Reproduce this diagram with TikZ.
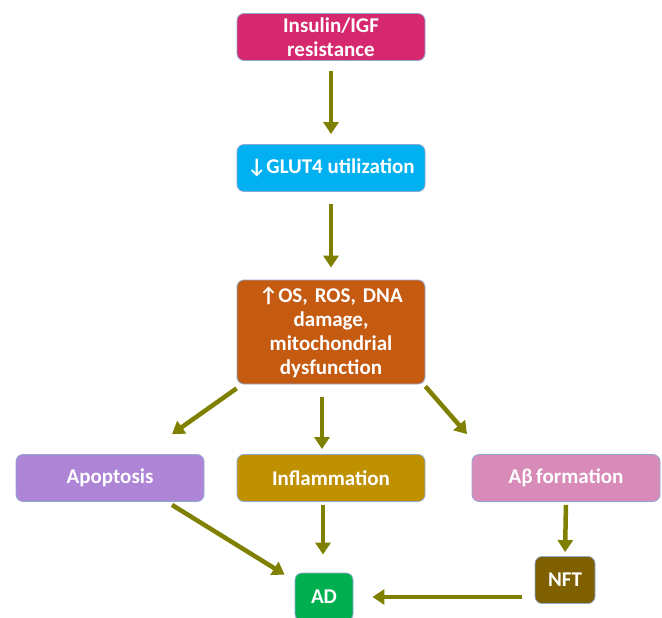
\documentclass[tikz,border=0pt]{standalone}
\usepackage{fontspec}
\setmainfont{Carlito}
\frenchspacing
\usetikzlibrary{arrows.meta}
\definecolor{insulin}{HTML}{D6286E}
\definecolor{glut}{HTML}{00B0F0}
\definecolor{ros}{HTML}{C55A11}
\definecolor{apop}{HTML}{AD84D6}
\definecolor{inflam}{HTML}{BF9000}
\definecolor{abeta}{HTML}{D88BB8}
\definecolor{nft}{HTML}{7F6000}
\definecolor{ad}{HTML}{00B050}
\definecolor{arrowcol}{HTML}{7F7F00}
\definecolor{edge}{HTML}{8FA8D0}
\begin{document}
\begin{tikzpicture}[x=1pt,y=-1pt,
    box/.style={draw=edge,line width=0.8pt,rounded corners=7pt,text=white,
      font=\fontsize{21}{24}\selectfont\bfseries,align=center,
      minimum width=188pt,minimum height=47pt,inner sep=2pt},
    link/.style={draw=arrowcol,line width=4.5pt,
      -{Triangle[width=15pt,length=12pt]}}]
  \useasboundingbox (0,0) rectangle (662,618);
  % top chain
  \node[box,fill=insulin] (insulin) at (331,37) {Insulin/IGF\\resistance};
  \node[box,fill=glut] (glut) at (331,168) {↓GLUT4 utilization};
  \node[box,fill=ros,minimum height=104pt,text width=176pt] (ros) at (331,332)
    {↑OS, ROS, DNA\\damage,\\mitochondrial\\dysfunction};
  % middle row
  \node[box,fill=apop] (apop) at (110,478) {Apoptosis};
  \node[box,fill=inflam] (inflam) at (331,478) {Inflammation};
  \node[box,fill=abeta] (abeta) at (566,478) {Aβ\,formation};
  % bottom
  \node[box,fill=nft,minimum width=60pt] (nft) at (565,580) {NFT};
  \node[box,fill=ad,minimum width=58pt,minimum height=48pt] (ad) at (324,597) {AD};
  % arrows
  \draw[link,shorten <=10pt,shorten >=10pt] (insulin) -- (glut);
  \draw[link,shorten <=12pt,shorten >=12pt] (glut) -- (ros);
  \draw[link] ([yshift=-4pt]ros.south west) -- ([xshift=62pt,yshift=20pt]apop.north);
  \draw[link] ([xshift=-9pt,yshift=-13pt]ros.south) -- ([xshift=-9pt,yshift=5pt]inflam.north);
  \draw[link] ([yshift=-2pt]ros.south east) -- ([xshift=-99pt,yshift=20pt]abeta.north);
  \draw[link] ([xshift=62pt,yshift=-3pt]apop.south) -- ([xshift=-10pt,yshift=-2pt]ad.north west);
  \draw[link,shorten <=3pt,shorten >=18pt] ([xshift=-8pt]inflam.south) -- ([xshift=-1pt]ad.north);
  \draw[link,shorten <=3pt,shorten >=4pt] (abeta.south) -- (nft.north);
  \draw[link,shorten <=13pt,shorten >=19pt] ([yshift=-17pt]nft.west) -- (ad.east);
\end{tikzpicture}
\end{document}
